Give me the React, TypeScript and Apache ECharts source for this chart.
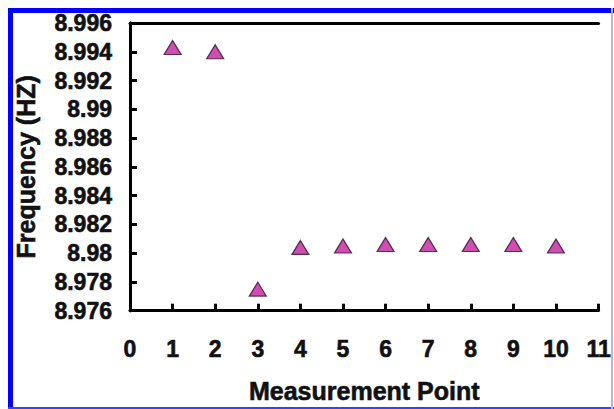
import React, { useEffect, useRef } from "react";
import * as echarts from "echarts";

const measurementPoints = [1, 2, 3, 4, 5, 6, 7, 8, 9, 10];
const frequencyHz = [8.9943, 8.994, 8.9775, 8.9804, 8.9805, 8.9806, 8.9806, 8.9806, 8.9806, 8.9805];
const xMin = 0;
const xMax = 11;
const yMin = 8.976;
const yMax = 8.996;
const yStep = 0.002;

const FONT = "'Liberation Sans', Arial, sans-serif";

export default function App() {
  const ref = useRef<HTMLDivElement>(null);
  useEffect(() => {
    if (!ref.current) return;
    const chart = echarts.init(ref.current, undefined, { renderer: "svg" });
    const data = measurementPoints.map((x, i) => [x, frequencyHz[i]]);
    const axisLine = { show: true, lineStyle: { color: "#000", width: 3 } };
    const labelBase = {
      color: "#111",
      fontFamily: FONT,
      fontWeight: "bold",
      fontSize: 23,
      textBorderColor: "#111",
      textBorderWidth: 0.6,
    };
    chart.setOption({
      animation: false,
      backgroundColor: "#fff",
      grid: { left: 130, top: 23, width: 473, height: 295, containLabel: false },
      xAxis: [
        {
          type: "value",
          min: xMin,
          max: xMax,
          interval: 1,
          axisLine,
          axisTick: { show: true, inside: true, length: 7, lineStyle: { color: "#000", width: 3 } },
          splitLine: { show: false },
          axisLabel: { ...labelBase, margin: 27 },
          name: "Measurement Point",
          nameLocation: "middle",
          nameGap: 68,
          nameTextStyle: { ...labelBase, fontSize: 25 },
        },
        {
          type: "value",
          position: "top",
          min: xMin,
          max: xMax,
          axisLine,
          axisTick: { show: false },
          axisLabel: { show: false },
          splitLine: { show: false },
        },
      ],
      yAxis: [
        {
          type: "value",
          min: yMin,
          max: yMax,
          interval: yStep,
          axisLine,
          axisTick: { show: true, inside: true, length: 7, lineStyle: { color: "#000", width: 3 } },
          splitLine: { show: false },
          axisLabel: {
            ...labelBase,
            margin: 18,
            formatter: (v: number) => String(Number(v.toFixed(3))),
          },
          name: "Frequency (HZ)",
          nameLocation: "middle",
          nameGap: 92,
          nameRotate: 90,
          nameTextStyle: { ...labelBase, fontSize: 25 },
        },
        {
          type: "value",
          position: "right",
          min: yMin,
          max: yMax,
          axisLine,
          axisTick: { show: false },
          axisLabel: { show: false },
          splitLine: { show: false },
        },
      ],
      series: [
        {
          type: "scatter",
          data,
          symbol: "triangle",
          symbolSize: [17, 14],
          itemStyle: { color: "#c4229e", borderColor: "#2e1230", borderWidth: 1.2 },
        },
      ],
      graphic: [
        { type: "rect", shape: { x: 8, y: 8, width: 5, height: 401 }, style: { fill: "#0000ff" }, silent: true },
        { type: "rect", shape: { x: 8, y: 8, width: 606, height: 5 }, style: { fill: "#0000ff" }, silent: true },
        { type: "rect", shape: { x: 8, y: 407, width: 606, height: 2 }, style: { fill: "#3344ff" }, silent: true },
        { type: "rect", shape: { x: 611, y: 8, width: 2, height: 401 }, style: { fill: "#b4b4f0" }, silent: true },
      ],
    });
    return () => chart.dispose();
  }, []);
  return (
    <div
      ref={ref}
      style={{ position: "fixed", left: 0, top: 0, width: 614, height: 409, background: "#fff" }}
    />
  );
}
